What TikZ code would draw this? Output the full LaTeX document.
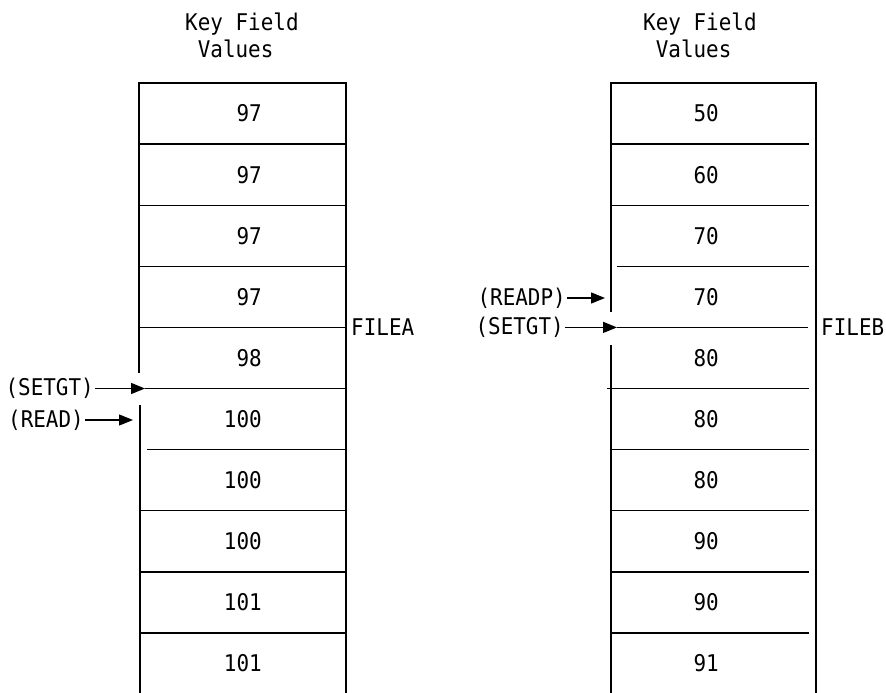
\documentclass[tikz,border=0pt]{standalone}
\usepackage{fontspec}
\usepackage{tikz}
\usetikzlibrary{arrows.meta}
\newfontfamily\ibmmono[FakeStretch=0.91]{DejaVu Sans Mono}
\tikzset{
  txt/.style={font=\ibmmono\fontsize{23}{28}\selectfont, inner sep=0pt},
  val/.style={txt, anchor=east},
  op/.style={txt, anchor=east, inner sep=1pt},
  rul/.style={draw=black, line width=1.4pt},
  ptr/.style={rul, -{Triangle[length=14pt,width=11pt]}}
}

\begin{document}
\begin{tikzpicture}[x=1pt, y=-1pt]
  \useasboundingbox (0,0) rectangle (886,693);
  % headings
  \node[txt, anchor=base west, align=left] (hA) at (185,58) {Key Field\\\hphantom{K}Values};
  \node[txt, anchor=base west, align=left] (hB) at (643,58) {Key Field\\\hphantom{K}Values};
  % FILEA
  \draw[rul] (139,373) -- (139,83) -- (346,83) -- (346,693);
  \draw[rul] (140,405) -- (140,693);
  \foreach \y in {144.1,205.2,266.3,327.4,510.7,571.8,633}
    \draw[rul] (139,\y) -- (346,\y);
  \draw[rul] (147,449.6) -- (346,449.6);
  \foreach \v [count=\i] in {97,97,97,97,98,100,100,100,101,101}
    \node[val] (a\i) at (262,{83+61.1*(\i-0.5)}) {\v};
  \node[txt, anchor=west] (fA) at (351,327.4) {FILEA};
  \node[op] (setgtA) at (95,388.5) {(SETGT)};
  \node[op] (readA) at (85,420) {(READ)};
  \coordinate (pA1) at (145,388.5);
  \coordinate (pA2) at (133,420);
  \draw[ptr] (setgtA) -- (pA1);
  \draw[rul] (pA1) -- (346,388.5);
  \draw[ptr] (readA) -- (pA2);
  % FILEB
  \draw[rul] (611,312) -- (611,83) -- (816,83) -- (816,693);
  \draw[rul] (611,345) -- (611,693);
  \foreach \y in {144.1,205.2,449.6,510.7,571.8,633}
    \draw[rul] (611,\y) -- (809,\y);
  \draw[rul] (617,266.3) -- (809,266.3);
  \draw[rul] (607,388.5) -- (809,388.5);
  \foreach \v [count=\i] in {50,60,70,70,80,80,80,90,90,91}
    \node[val] (b\i) at (719,{83+61.1*(\i-0.5)}) {\v};
  \node[txt, anchor=west] (fB) at (821,327.4) {FILEB};
  \node[op] (readpB) at (567,298) {(READP)};
  \node[op] (setgtB) at (565,327.4) {(SETGT)};
  \coordinate (pB1) at (605,298);
  \coordinate (pB2) at (617,327.4);
  \draw[ptr] (readpB) -- (pB1);
  \draw[ptr] (setgtB) -- (pB2);
  \draw[rul] (pB2) -- (808,327.4);
\end{tikzpicture}
\end{document}
